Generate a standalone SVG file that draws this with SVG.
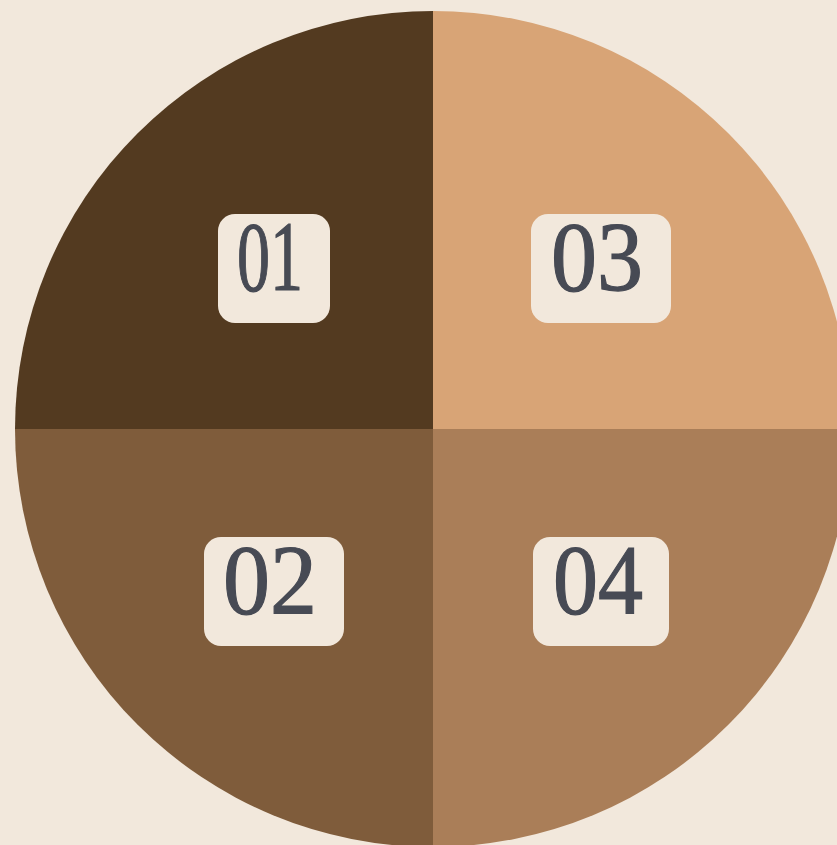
<svg xmlns="http://www.w3.org/2000/svg" width="837" height="845" viewBox="0 0 837 845">
<style>
.lbl{fill:#F2E8DC}
.num{font-family:"Liberation Serif","DejaVu Serif",serif;font-size:100px;fill:#474A54;stroke:#474A54;stroke-width:1.2;text-anchor:middle}
</style>
<rect width="837" height="845" fill="#F2E8DC"/>
<g id="q1"><path d="M433 429 L15 429 A418 418 0 0 1 433 11 Z" fill="#533A20"/></g>
<g id="q3"><path d="M433 429 L433 11 A418 418 0 0 1 851 429 Z" fill="#D8A476"/></g>
<g id="q2"><path d="M433 429 L433 847 A418 418 0 0 1 15 429 Z" fill="#7F5C3B"/></g>
<g id="q4"><path d="M433 429 L851 429 A418 418 0 0 1 433 847 Z" fill="#AA7E58"/></g>
<g id="n01"><rect class="lbl" x="218" y="214" width="112" height="109" rx="17"/><text class="num" x="270" y="290" textLength="66" lengthAdjust="spacingAndGlyphs">01</text></g>
<g id="n03"><rect class="lbl" x="531" y="214" width="140" height="109" rx="17"/><text class="num" x="597" y="290" textLength="92" lengthAdjust="spacingAndGlyphs">03</text></g>
<g id="n02"><rect class="lbl" x="204" y="537" width="140" height="109" rx="17"/><text class="num" x="270" y="613" textLength="94" lengthAdjust="spacingAndGlyphs">02</text></g>
<g id="n04"><rect class="lbl" x="533" y="537" width="136" height="109" rx="17"/><text class="num" x="598" y="613" textLength="90" lengthAdjust="spacingAndGlyphs">04</text></g>
<g id="connectors"/>
</svg>
